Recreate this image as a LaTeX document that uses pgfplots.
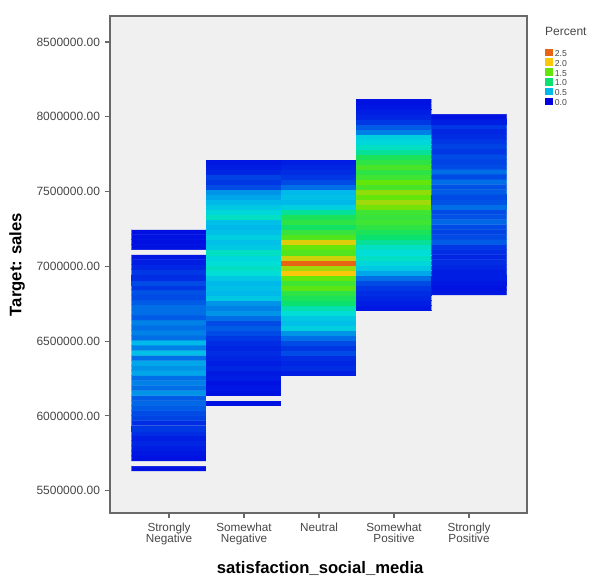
\documentclass[border=0pt]{standalone}
\usepackage{fontspec}
\setmainfont{Liberation Sans}
\usepackage{pgfplots}
\pgfplotsset{compat=1.18}

\definecolor{bggray}{RGB}{240,240,240}
\definecolor{framegray}{RGB}{105,105,105}
\definecolor{labgray}{RGB}{70,70,70}
\definecolor{p25}{RGB}{230,100,20}
\definecolor{p20}{RGB}{250,200,10}
\definecolor{p15}{RGB}{100,230,10}
\definecolor{p10}{RGB}{10,225,110}
\definecolor{p05}{RGB}{0,185,235}
\definecolor{p00}{RGB}{0,0,225}

% -1 = empty bin (drawn in the background grey), 0 .. 2.5 = percent
\pgfplotsset{
  colormap={spss}{rgb255(0cm)=(240,240,240); rgb255(1cm)=(0,0,225);
    rgb255(1.5cm)=(0,185,235); rgb255(1.75cm)=(0,222,215); rgb255(2cm)=(10,225,110);
    rgb255(2.5cm)=(100,230,10); rgb255(3cm)=(250,200,10); rgb255(3.5cm)=(230,100,20)},
}
\newcommand\sqimg[1]{\addlegendimage{legend image code/.code={\fill[#1] (0pt,-1.6pt) rectangle (4.9pt,3.3pt);}}}

\begin{document}
\begin{tikzpicture}
\useasboundingbox (-82.5pt,-49.5pt) rectangle (360pt,384.75pt);
\begin{axis}[
  at={(0pt,0pt)}, anchor=south west,
  scale only axis, width=312.75pt, height=372.75pt,
  clip mode=individual,
  xmin=-0.787, xmax=4.773,
  ymin=5351000, ymax=8674000,
  axis background/.style={fill=bggray},
  axis line style={framegray, line width=0.8pt},
  tick style={framegray, line width=0.8pt},
  tick align=outside, major tick length=4pt,
  xtick pos=bottom, ytick pos=left,
  xtick={0,1,2,3,4},
  xticklabels={{Strongly\\Negative},{Somewhat\\Negative},Neutral,{Somewhat\\Positive},{Strongly\\Positive}},
  xticklabel style={align=center, font=\fontsize{8.8}{8.3}\selectfont, text=labgray},
  ytick={5500000,6000000,6500000,7000000,7500000,8000000,8500000},
  scaled y ticks=false,
  /pgf/number format/assume math mode=true,
  yticklabel style={font=\fontsize{9}{10}\selectfont, text=labgray,
    /pgf/number format/.cd, fixed, fixed zerofill, precision=2, 1000 sep={}},
  xlabel={satisfaction\_social\_media},
  ylabel={Target: sales},
  label style={font=\bfseries\fontsize{12.5}{14}\selectfont},
  xlabel style={at={(axis description cs:0.504,-0.111)}, anchor=center},
  ylabel style={at={(axis description cs:-0.223,0.5)}, anchor=center},
  colormap name=spss,
  point meta min=-1, point meta max=2.5,
  legend cell align=left,
  legend style={at={(axis description cs:1.043,0.935)}, anchor=north west,
    draw=none, fill=none, inner sep=0pt, row sep=1.4pt, column sep=2pt,
    font=\fontsize{6.5}{6.5}\selectfont, text=labgray,
    nodes={inner sep=0pt, text height=4.9pt, text depth=0pt}},
]
% rows = sales bins (index k, bin centre = 5648815 + 33630 k), columns = categories
\addplot[matrix plot*, forget plot, mesh/cols=5, point meta=explicit,
  shader=faceted, faceted color=mapped color, line width=0.25pt,
  y filter/.expression={5648815+33630*y}] coordinates {
(0,0)[0.05] (1,0)[-1] (2,0)[-1] (3,0)[-1] (4,0)[-1]
(0,1)[-1] (1,1)[-1] (2,1)[-1] (3,1)[-1] (4,1)[-1]
(0,2)[0.05] (1,2)[-1] (2,2)[-1] (3,2)[-1] (4,2)[-1]
(0,3)[0.06] (1,3)[-1] (2,3)[-1] (3,3)[-1] (4,3)[-1]
(0,4)[0.08] (1,4)[-1] (2,4)[-1] (3,4)[-1] (4,4)[-1]
(0,5)[0.10] (1,5)[-1] (2,5)[-1] (3,5)[-1] (4,5)[-1]
(0,6)[0.08] (1,6)[-1] (2,6)[-1] (3,6)[-1] (4,6)[-1]
(0,7)[0.12] (1,7)[-1] (2,7)[-1] (3,7)[-1] (4,7)[-1]
(0,8)[0.15] (1,8)[-1] (2,8)[-1] (3,8)[-1] (4,8)[-1]
(0,9)[0.12] (1,9)[-1] (2,9)[-1] (3,9)[-1] (4,9)[-1]
(0,10)[0.18] (1,10)[-1] (2,10)[-1] (3,10)[-1] (4,10)[-1]
(0,11)[0.20] (1,11)[-1] (2,11)[-1] (3,11)[-1] (4,11)[-1]
(0,12)[0.25] (1,12)[-1] (2,12)[-1] (3,12)[-1] (4,12)[-1]
(0,13)[0.28] (1,13)[0.05] (2,13)[-1] (3,13)[-1] (4,13)[-1]
(0,14)[0.25] (1,14)[-1] (2,14)[-1] (3,14)[-1] (4,14)[-1]
(0,15)[0.40] (1,15)[0.05] (2,15)[-1] (3,15)[-1] (4,15)[-1]
(0,16)[0.30] (1,16)[0.06] (2,16)[-1] (3,16)[-1] (4,16)[-1]
(0,17)[0.35] (1,17)[0.05] (2,17)[-1] (3,17)[-1] (4,17)[-1]
(0,18)[0.30] (1,18)[0.08] (2,18)[-1] (3,18)[-1] (4,18)[-1]
(0,19)[0.45] (1,19)[0.07] (2,19)[0.08] (3,19)[-1] (4,19)[-1]
(0,20)[0.40] (1,20)[0.10] (2,20)[0.12] (3,20)[-1] (4,20)[-1]
(0,21)[0.45] (1,21)[0.08] (2,21)[0.10] (3,21)[-1] (4,21)[-1]
(0,22)[0.30] (1,22)[0.10] (2,22)[0.12] (3,22)[-1] (4,22)[-1]
(0,23)[0.55] (1,23)[0.12] (2,23)[0.20] (3,23)[-1] (4,23)[-1]
(0,24)[0.35] (1,24)[0.10] (2,24)[0.15] (3,24)[-1] (4,24)[-1]
(0,25)[0.50] (1,25)[0.12] (2,25)[0.20] (3,25)[-1] (4,25)[-1]
(0,26)[0.30] (1,26)[0.15] (2,26)[0.30] (3,26)[-1] (4,26)[-1]
(0,27)[0.35] (1,27)[0.20] (2,27)[0.40] (3,27)[-1] (4,27)[-1]
(0,28)[0.30] (1,28)[0.25] (2,28)[0.65] (3,28)[-1] (4,28)[-1]
(0,29)[0.35] (1,29)[0.20] (2,29)[0.55] (3,29)[-1] (4,29)[-1]
(0,30)[0.25] (1,30)[0.30] (2,30)[0.60] (3,30)[-1] (4,30)[-1]
(0,31)[0.30] (1,31)[0.40] (2,31)[0.75] (3,31)[-1] (4,31)[-1]
(0,32)[0.30] (1,32)[0.35] (2,32)[0.85] (3,32)[0.06] (4,32)[-1]
(0,33)[0.25] (1,33)[0.40] (2,33)[1.00] (3,33)[0.08] (4,33)[-1]
(0,34)[0.20] (1,34)[0.60] (2,34)[1.10] (3,34)[0.10] (4,34)[-1]
(0,35)[0.22] (1,35)[0.50] (2,35)[1.20] (3,35)[0.12] (4,35)[0.06]
(0,36)[0.15] (1,36)[0.55] (2,36)[1.45] (3,36)[0.15] (4,36)[0.05]
(0,37)[0.20] (1,37)[0.50] (2,37)[1.30] (3,37)[0.20] (4,37)[0.06]
(0,38)[0.12] (1,38)[0.60] (2,38)[1.50] (3,38)[0.30] (4,38)[0.08]
(0,39)[0.15] (1,39)[0.75] (2,39)[2.00] (3,39)[0.45] (4,39)[0.08]
(0,40)[0.10] (1,40)[0.80] (2,40)[1.70] (3,40)[0.60] (4,40)[0.10]
(0,41)[0.08] (1,41)[0.75] (2,41)[2.50] (3,41)[0.70] (4,41)[0.12]
(0,42)[0.06] (1,42)[0.70] (2,42)[1.85] (3,42)[0.80] (4,42)[0.10]
(0,43)[-1] (1,43)[0.80] (2,43)[1.40] (3,43)[0.75] (4,43)[0.12]
(0,44)[0.05] (1,44)[0.60] (2,44)[1.50] (3,44)[0.80] (4,44)[0.15]
(0,45)[0.04] (1,45)[0.55] (2,45)[1.90] (3,45)[0.90] (4,45)[0.25]
(0,46)[0.05] (1,46)[0.65] (2,46)[1.40] (3,46)[1.00] (4,46)[0.20]
(0,47)[0.04] (1,47)[0.55] (2,47)[1.25] (3,47)[1.10] (4,47)[0.18]
(0,48)[-1] (1,48)[0.50] (2,48)[1.05] (3,48)[1.20] (4,48)[0.20]
(0,49)[-1] (1,49)[0.55] (2,49)[1.20] (3,49)[1.30] (4,49)[0.28]
(0,50)[-1] (1,50)[0.80] (2,50)[1.10] (3,50)[1.25] (4,50)[0.22]
(0,51)[-1] (1,51)[0.70] (2,51)[0.90] (3,51)[1.30] (4,51)[0.20]
(0,52)[-1] (1,52)[0.60] (2,52)[0.65] (3,52)[1.55] (4,52)[0.30]
(0,53)[-1] (1,53)[0.50] (2,53)[0.50] (3,53)[1.70] (4,53)[0.22]
(0,54)[-1] (1,54)[0.45] (2,54)[0.55] (3,54)[1.50] (4,54)[0.20]
(0,55)[-1] (1,55)[0.40] (2,55)[0.50] (3,55)[1.65] (4,55)[0.25]
(0,56)[-1] (1,56)[0.20] (2,56)[0.30] (3,56)[1.35] (4,56)[0.22]
(0,57)[-1] (1,57)[0.15] (2,57)[0.20] (3,57)[1.50] (4,57)[0.30]
(0,58)[-1] (1,58)[0.18] (2,58)[0.15] (3,58)[1.30] (4,58)[0.20]
(0,59)[-1] (1,59)[0.10] (2,59)[0.12] (3,59)[1.20] (4,59)[0.30]
(0,60)[-1] (1,60)[0.08] (2,60)[0.10] (3,60)[1.35] (4,60)[0.20]
(0,61)[-1] (1,61)[0.06] (2,61)[0.08] (3,61)[1.20] (4,61)[0.18]
(0,62)[-1] (1,62)[-1] (2,62)[-1] (3,62)[1.10] (4,62)[0.20]
(0,63)[-1] (1,63)[-1] (2,63)[-1] (3,63)[0.90] (4,63)[0.15]
(0,64)[-1] (1,64)[-1] (2,64)[-1] (3,64)[0.80] (4,64)[0.18]
(0,65)[-1] (1,65)[-1] (2,65)[-1] (3,65)[0.70] (4,65)[0.15]
(0,66)[-1] (1,66)[-1] (2,66)[-1] (3,66)[0.65] (4,66)[0.12]
(0,67)[-1] (1,67)[-1] (2,67)[-1] (3,67)[0.35] (4,67)[0.10]
(0,68)[-1] (1,68)[-1] (2,68)[-1] (3,68)[0.25] (4,68)[0.15]
(0,69)[-1] (1,69)[-1] (2,69)[-1] (3,69)[0.15] (4,69)[0.08]
(0,70)[-1] (1,70)[-1] (2,70)[-1] (3,70)[0.10] (4,70)[0.05]
(0,71)[-1] (1,71)[-1] (2,71)[-1] (3,71)[0.08] (4,71)[-1]
(0,72)[-1] (1,72)[-1] (2,72)[-1] (3,72)[0.06] (4,72)[-1]
(0,73)[-1] (1,73)[-1] (2,73)[-1] (3,73)[0.05] (4,73)[-1]
};
\sqimg{p25}\addlegendentry{2.5}
\sqimg{p20}\addlegendentry{2.0}
\sqimg{p15}\addlegendentry{1.5}
\sqimg{p10}\addlegendentry{1.0}
\sqimg{p05}\addlegendentry{0.5}
\sqimg{p00}\addlegendentry{0.0}
\node[anchor=west, inner sep=0pt, font=\fontsize{9}{10}\selectfont, text=labgray]
  at (axis description cs:1.043,0.968) {Percent};
\end{axis}
\end{tikzpicture}
\end{document}
